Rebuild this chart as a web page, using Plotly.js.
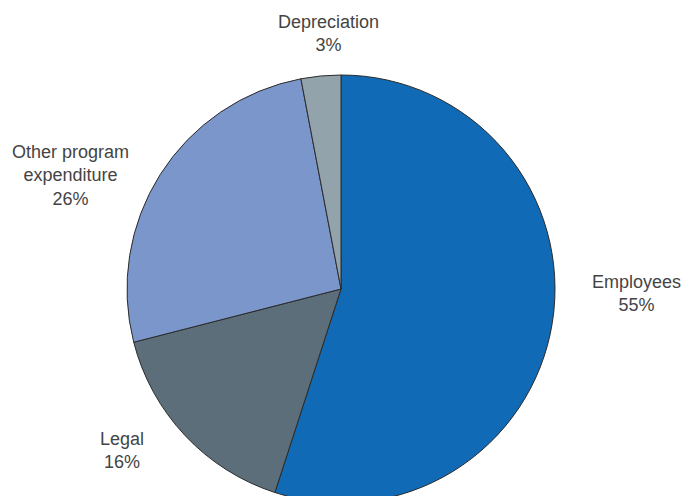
<!DOCTYPE html>
<html>
<head>
<meta charset="utf-8">
<script src="https://cdn.plot.ly/plotly-3.0.1.min.js"></script>
<style>
html,body{margin:0;padding:0;overflow:hidden;background:#fff;}
#chart{width:682px;height:512px;}
</style>
</head>
<body>
<div id="chart"></div>
<script>
var categories = ["Employees", "Legal", "Other program<br>expenditure", "Depreciation"];
var values = [55, 16, 26, 3];
var colors = ["#106ab5", "#5b6e7a", "#7b96cb", "#93a3ab"];
// label anchor positions (pixels in the 682-wide page)
var labelX = [636, 122, 70, 328.5];
var labelY = [293, 450, 175, 33];

var W = 682, H = 512;
var cx = 341, cy = 289, r = 214;

var annotations = categories.map(function(c, i) {
  return {
    xref: "paper", yref: "paper",
    x: labelX[i] / W, y: 1 - labelY[i] / H,
    xanchor: "center", yanchor: "middle",
    text: c + "<br>" + values[i] + "%",
    showarrow: false,
    align: "center",
    font: {family: "Liberation Sans, Arial, sans-serif", size: 18, color: "#444444"}
  };
});

var trace = {
  type: "pie",
  labels: categories,
  values: values,
  sort: false,
  direction: "clockwise",
  rotation: 0,
  textinfo: "none",
  hoverinfo: "label+percent",
  marker: {colors: colors, line: {color: "#2b2b2b", width: 1}},
  domain: {x: [(cx - r) / W, (cx + r) / W], y: [(H - cy - r) / H, (H - cy + r) / H]}
};

Plotly.newPlot("chart", [trace], {
  width: W, height: H,
  margin: {l: 0, r: 0, t: 0, b: 0},
  showlegend: false,
  paper_bgcolor: "#fff",
  annotations: annotations
}, {displayModeBar: false, staticPlot: true});
</script>
</body>
</html>
